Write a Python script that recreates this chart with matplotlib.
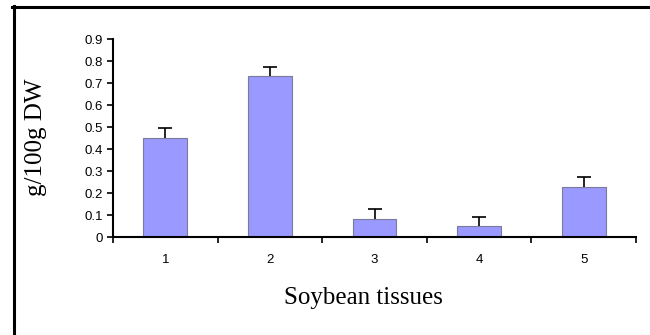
import matplotlib.pyplot as plt
from matplotlib.lines import Line2D

tissues = ["1", "2", "3", "4", "5"]
values = [0.449, 0.733, 0.082, 0.049, 0.228]
errors = [0.045, 0.042, 0.046, 0.041, 0.043]
yticks = [0, 0.1, 0.2, 0.3, 0.4, 0.5, 0.6, 0.7, 0.8, 0.9]

W, H = 650, 335
fig = plt.figure(figsize=(W / 100, H / 100), dpi=100)
ax = fig.add_axes([113 / W, 1 - 237 / H, (636 - 113) / W, (237 - 39.3) / H])

x = list(range(len(tissues)))
ax.bar(x, values, width=0.42, color="#9999FF", edgecolor="#7a7a9a", linewidth=0.8, zorder=2)
eb = ax.errorbar(x, values, yerr=[[0] * len(errors), errors], fmt="none", ecolor="black",
                 elinewidth=1.2, capsize=4.7, capthick=1.2, zorder=3)
# plus direction only: hide the lower cap
eb[1][0].set_visible(False)

ax.set_xlim(-0.5, len(tissues) - 0.5)
ax.set_ylim(0, 0.9)
ax.set_yticks(yticks)
ax.set_yticklabels([("%g" % t) for t in yticks], family="Liberation Sans", fontsize=9.5)
ax.set_xticks(x)
ax.set_xticklabels(tissues, family="Liberation Sans", fontsize=9.5)
ax.set_xticks([i - 0.5 for i in range(len(tissues) + 1)], minor=True)
ax.tick_params(axis="x", which="major", length=0, pad=12)
ax.tick_params(axis="x", which="minor", length=4, width=1.2, direction="out")
ax.tick_params(axis="y", length=4, width=1.2, direction="out", pad=3)

for s in ["top", "right"]:
    ax.spines[s].set_visible(False)
for s in ["left", "bottom"]:
    ax.spines[s].set_linewidth(1.5)

fig.text(36 / W, 1 - 137 / H, "g/100g DW", family="Liberation Serif", fontsize=18,
         rotation=90, ha="center", va="center")
fig.text(363 / W, 1 - 298 / H, "Soybean tissues", family="Liberation Serif",
         fontsize=18, ha="center", va="center")

# outer frame
fig.add_artist(Line2D([12 / W, 1], [1 - 7 / H, 1 - 7 / H], color="black", linewidth=2.2,
                      transform=fig.transFigure))
fig.add_artist(Line2D([13.5 / W, 13.5 / W], [0, 1 - 6 / H], color="black", linewidth=2.2,
                      transform=fig.transFigure))
fig.add_artist(Line2D([649.5 / W, 649.5 / W], [0, 1 - 6 / H], color="#dddddd", linewidth=0.8,
                      transform=fig.transFigure))

fig.savefig("out.png", dpi=100)
